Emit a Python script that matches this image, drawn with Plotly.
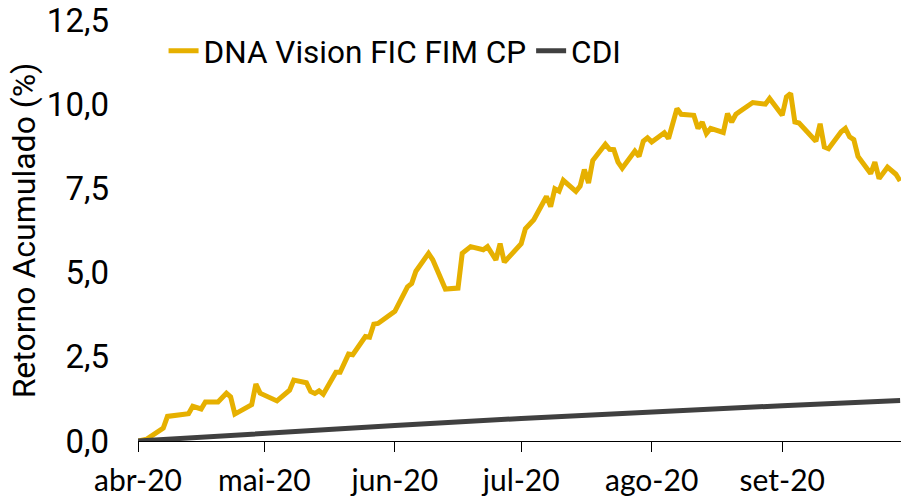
import plotly.graph_objects as go

# ---- data ----
fund_dates = [
    "2020-04-01", "2020-04-03", "2020-04-07", "2020-04-08", "2020-04-13", "2020-04-14",
    "2020-04-16", "2020-04-17", "2020-04-20", "2020-04-22", "2020-04-23", "2020-04-24",
    "2020-04-28", "2020-04-29", "2020-04-30", "2020-05-04", "2020-05-07", "2020-05-08",
    "2020-05-11", "2020-05-12", "2020-05-13", "2020-05-14", "2020-05-15", "2020-05-18",
    "2020-05-19", "2020-05-21", "2020-05-22", "2020-05-25", "2020-05-26", "2020-05-27",
    "2020-05-28", "2020-06-01", "2020-06-04", "2020-06-05", "2020-06-06", "2020-06-09",
    "2020-06-10", "2020-06-13", "2020-06-16", "2020-06-17", "2020-06-19", "2020-06-22",
    "2020-06-23", "2020-06-25", "2020-06-26", "2020-06-27", "2020-07-01", "2020-07-02",
    "2020-07-04", "2020-07-07", "2020-07-08", "2020-07-09", "2020-07-10", "2020-07-11",
    "2020-07-14", "2020-07-15", "2020-07-16", "2020-07-17", "2020-07-18", "2020-07-21",
    "2020-07-22", "2020-07-23", "2020-07-24", "2020-07-25", "2020-07-28", "2020-07-29",
    "2020-07-30", "2020-07-31", "2020-08-01", "2020-08-04", "2020-08-05", "2020-08-06",
    "2020-08-07", "2020-08-08", "2020-08-11", "2020-08-12", "2020-08-13", "2020-08-14",
    "2020-08-15", "2020-08-18", "2020-08-19", "2020-08-20", "2020-08-21", "2020-08-22",
    "2020-08-25", "2020-08-28", "2020-08-29", "2020-09-01", "2020-09-02", "2020-09-03",
    "2020-09-04", "2020-09-05", "2020-09-09", "2020-09-10", "2020-09-11", "2020-09-12",
    "2020-09-15", "2020-09-16", "2020-09-17", "2020-09-18", "2020-09-19", "2020-09-22",
    "2020-09-23", "2020-09-24", "2020-09-26", "2020-09-28", "2020-09-29",
]
fund_values = [
    0.00, 0.05, 0.38, 0.73, 0.81, 1.03,
    0.95, 1.16, 1.16, 1.42, 1.31, 0.80,
    1.08, 1.69, 1.42, 1.19, 1.51, 1.81,
    1.73, 1.47, 1.41, 1.49, 1.39, 2.04,
    2.04, 2.58, 2.56, 3.10, 3.08, 3.47,
    3.49, 3.85, 4.58, 4.68, 5.04, 5.57,
    5.38, 4.51, 4.54, 5.57, 5.77, 5.68,
    5.77, 5.38, 5.86, 5.31, 5.86, 6.30,
    6.57, 7.26, 6.96, 7.49, 7.42, 7.74,
    7.41, 7.57, 8.06, 7.66, 8.33, 8.81,
    8.66, 8.65, 8.28, 8.10, 8.61, 8.45,
    8.90, 9.00, 8.88, 9.15, 8.98, 9.38,
    9.87, 9.70, 9.67, 9.28, 9.47, 9.13,
    9.28, 9.16, 9.72, 9.47, 9.70, 9.79,
    10.05, 10.00, 10.17, 9.67, 10.22, 10.32,
    9.47, 9.44, 8.90, 9.42, 8.73, 8.68,
    9.18, 9.28, 9.03, 8.95, 8.45, 7.94,
    8.28, 7.79, 8.13, 7.92, 7.72,
]

cdi_dates = ["2020-04-01", "2020-05-01", "2020-06-01", "2020-07-01",
             "2020-08-01", "2020-09-01", "2020-09-29"]
cdi_values = [0.00, 0.24, 0.46, 0.67, 0.87, 1.05, 1.20]

tick_dates = ["2020-04-01", "2020-05-01", "2020-06-01", "2020-07-01",
              "2020-08-01", "2020-09-01"]
tick_labels = ["abr-20", "mai-20", "jun-20", "jul-20", "ago-20", "set-20"]

y_ticks = [0, 2.5, 5, 7.5, 10, 12.5]
y_tick_labels = ["0,0", "2,5", "5,0", "7,5", "10,0", "12,5"]

series_names = ["DNA Vision FIC FIM CP", "CDI"]
series_colors = ["#E6B000", "#404040"]

# ---- figure ----
fig = go.Figure()
fig.add_trace(go.Scatter(
    x=fund_dates, y=fund_values, mode="lines", name=series_names[0],
    line=dict(color=series_colors[0], width=5),
))
fig.add_trace(go.Scatter(
    x=cdi_dates, y=cdi_values, mode="lines", name=series_names[1],
    line=dict(color=series_colors[1], width=5),
))

fig.update_layout(
    width=901, height=502,
    margin=dict(l=138, r=0, t=20, b=61),
    paper_bgcolor="white", plot_bgcolor="white",
    font=dict(family="Roboto", size=32, color="black"),
    showlegend=True,
    legend=dict(
        orientation="h", x=0.0335, y=0.927, xanchor="left", yanchor="middle",
        font=dict(family="Roboto", size=31.5, color="black"),
        bgcolor="rgba(0,0,0,0)", itemwidth=30, tracegroupgap=0,
    ),
    xaxis=dict(
        type="date",
        range=["2020-04-01", "2020-09-29 05:00"],
        tickvals=tick_dates, ticktext=tick_labels,
        ticks="outside", ticklen=10, tickwidth=1, tickcolor="black",
        showline=True, linecolor="black", linewidth=1,
        showgrid=False, zeroline=False,
        ticklabelstandoff=3,
        tickfont=dict(family="Lato", size=30, color="black"),
    ),
    yaxis=dict(
        range=[0, 12.5],
        tickvals=y_ticks, ticktext=y_tick_labels,
        showgrid=False, zeroline=False, showline=False,
        ticks="", ticklabelstandoff=28, ticklabeloverflow="allow",
        tickfont=dict(family="Roboto", size=33, color="black"),
        title=dict(text="Retorno Acumulado (%)", standoff=1,
                   font=dict(family="Roboto", size=32, color="black")),
    ),
)

fig.write_html("out.html",
               config={"displayModeBar": False},
               post_script="document.body.style.margin='0';document.body.style.overflow='hidden';")
